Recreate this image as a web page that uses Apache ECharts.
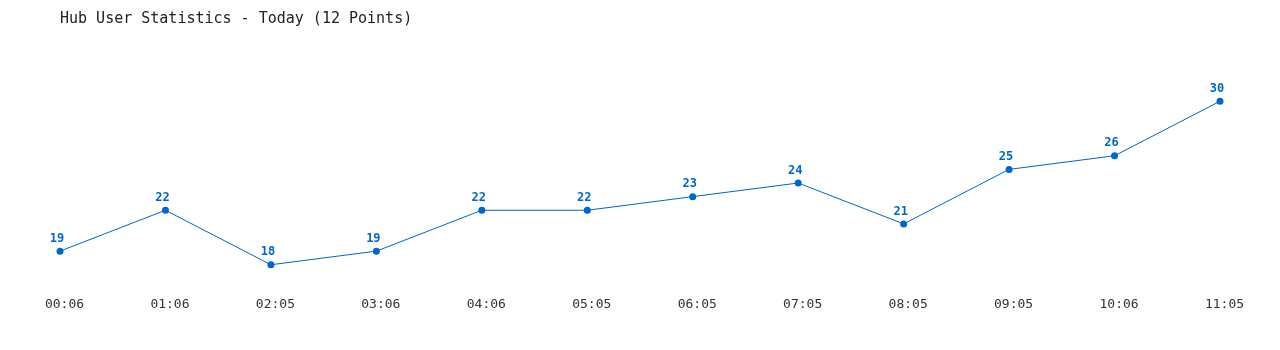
<!DOCTYPE html>
<html><head><meta charset="utf-8">
<script src="https://cdn.jsdelivr.net/npm/echarts@6/dist/echarts.min.js"></script>
<style>html,body{margin:0;padding:0;background:#fff}#c{width:1280px;height:350px}</style>
</head><body><div id="c"></div>
<script>
const categories = ['00:06','01:06','02:05','03:06','04:06','05:05','06:05','07:05','08:05','09:05','10:06','11:05'];
const users = [19,22,18,19,22,22,23,24,21,25,26,30];
const titleText = 'Hub User Statistics - Today (12 Points)';
const mono = '"DejaVu Sans Mono", "Liberation Mono", monospace';
const chart = echarts.init(document.getElementById('c'));
chart.setOption({
  animation: false,
  backgroundColor: '#fff',
  title: { text: titleText, left: 55, top: 7, textStyle: { fontFamily: mono, fontSize: 15, fontWeight: 'normal', color: '#222' } },
  grid: { left: 60, right: 60, top: 74, bottom: 58 },
  xAxis: { type: 'category', data: categories, boundaryGap: false,
    axisLine: { show: false }, axisTick: { show: false },
    axisLabel: { fontFamily: mono, fontSize: 13, color: '#333', margin: 6, padding: [0, 0, 0, 9] } },
  yAxis: { type: 'value', min: 16, max: 32, show: false, splitLine: { show: false } },
  series: [{ type: 'line', data: users, symbol: 'circle', symbolSize: 7,
    lineStyle: { color: '#0066cc', width: 1 }, itemStyle: { color: '#0066cc' },
    label: { show: true, position: 'top', distance: 3, offset: [-3, 0], fontFamily: mono, fontSize: 12, fontWeight: 'bold', color: '#0066cc' } }]
});
</script></body></html>
